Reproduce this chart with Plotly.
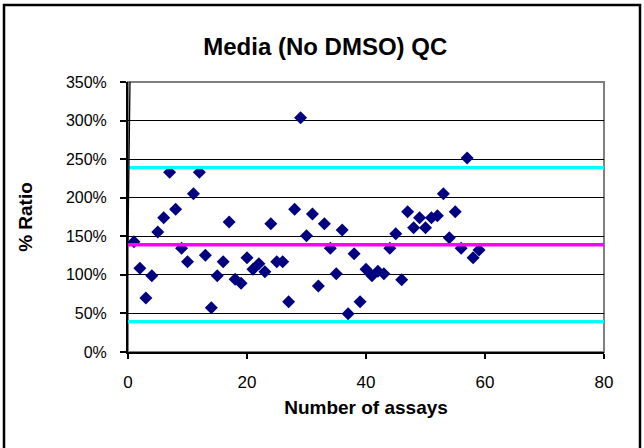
import plotly.graph_objects as go

# Data
assay_no = list(range(1, 60))
ratio_pct = [143, 108.5, 70, 99, 155.6, 174, 233, 185, 134.4, 117,
             205, 233, 125.4, 57.4, 99, 117, 168.5, 94.2, 89, 122.2,
             107.2, 114.5, 104, 166.3, 117, 117, 65.2, 185, 303.7, 150.8,
             178.9, 85.6, 166.3, 134.4, 101.5, 158.2, 49.7, 127.4, 65.2, 107.2,
             98.9, 104.6, 101.5, 134.4, 153.4, 93.7, 181.9, 161.1, 174.1, 161.1,
             174.1, 176.7, 205.2, 148.2, 181.9, 134.4, 251.5, 122.2, 132.2]

limit_x = [0, 80]
mean_pct = [139, 139]
upper_pct = [239, 239]
lower_pct = [39.5, 39.5]

trend_x = [0.35, 0.0]
trend_y = [360, 145]

y_ticks = [0, 50, 100, 150, 200, 250, 300, 350]
y_tick_labels = ["0%", "50%", "100%", "150%", "200%", "250%", "300%", "350%"]
x_ticks = [0, 20, 40, 60, 80]
x_tick_labels = ["0", "20", "40", "60", "80"]

fig = go.Figure()
fig.add_trace(go.Scatter(x=assay_no, y=ratio_pct, mode="markers",
                         marker=dict(symbol="diamond", size=10, color="#000080",
                                     line=dict(width=0)),
                         showlegend=False))
fig.add_trace(go.Scatter(x=limit_x, y=mean_pct, mode="lines",
                         line=dict(color="#FF00FF", width=3.3), showlegend=False))
fig.add_trace(go.Scatter(x=limit_x, y=upper_pct, mode="lines",
                         line=dict(color="#00FFFF", width=3.3), showlegend=False))
fig.add_trace(go.Scatter(x=limit_x, y=lower_pct, mode="lines",
                         line=dict(color="#00FFFF", width=3.3), showlegend=False))
fig.add_trace(go.Scatter(x=trend_x, y=trend_y, mode="lines",
                         line=dict(color="black", width=1.3), showlegend=False))

FONT = "Liberation Sans, Arial, sans-serif"

fig.update_layout(
    width=644, height=448,
    margin=dict(l=128, r=40, t=82, b=96),
    paper_bgcolor="white", plot_bgcolor="white",
    font=dict(family=FONT, color="black", size=16),
    title=dict(text="<b>Media (No DMSO) QC</b>", x=0.505, xanchor="center",
               y=1 - 47 / 448, yanchor="middle",
               font=dict(family=FONT, size=24, color="black")),
    xaxis=dict(range=[0, 80], tickvals=x_ticks, ticktext=x_tick_labels,
               showgrid=False, zeroline=False,
               showline=True, linecolor="black", linewidth=2,
               ticks="outside", ticklen=5, tickwidth=2, tickcolor="black",
               tickfont=dict(family=FONT, size=17), ticklabelstandoff=9,
               title=dict(text="<b>Number of assays</b>",
                          font=dict(family=FONT, size=19), standoff=9)),
    yaxis=dict(range=[0, 350], tickvals=y_ticks, ticktext=y_tick_labels,
               showgrid=True, gridcolor="black", gridwidth=1.3, zeroline=False,
               showline=True, linecolor="black", linewidth=2,
               ticks="outside", ticklen=6, tickwidth=2, tickcolor="black",
               tickfont=dict(family=FONT, size=16), ticklabelstandoff=10,
               title=dict(text="<b>% Ratio</b>",
                          font=dict(family=FONT, size=19), standoff=28)),
    shapes=[
        dict(type="rect", xref="paper", yref="paper", x0=0, x1=1, y0=0, y1=1,
             line=dict(color="#808080", width=2), layer="below"),
        dict(type="rect", xref="paper", yref="paper",
             x0=(4 - 128) / 476, x1=(640 - 128) / 476,
             y0=(352 - 452) / 270, y1=(352 - 5) / 270,
             line=dict(color="black", width=2.5), layer="below"),
    ],
)

fig.write_html("out.html", config={"displayModeBar": False},
               post_script="document.body.style.margin='0';")
